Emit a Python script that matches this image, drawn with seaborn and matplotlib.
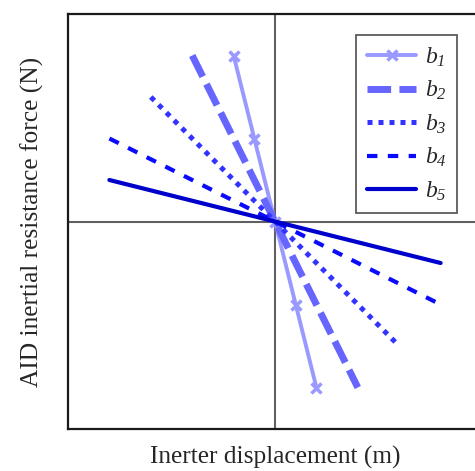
import seaborn as sns
import matplotlib.pyplot as plt
import numpy as np

# Plot configuration
sns.set_style("white")
plt.rcParams["font.family"] = ["Liberation Serif", "DejaVu Serif"]
plt.rcParams["mathtext.fontset"] = "custom"
plt.rcParams["mathtext.it"] = "Liberation Serif:italic"
plt.rcParams["mathtext.rm"] = "Liberation Serif:italic"

# Data (inerter displacement vs inertial resistance force, normalised)
labels = [r"$b_1$", r"$b_2$", r"$b_3$", r"$b_4$", r"$b_5$"]
x_b1 = [-0.2, -0.1, 0.0, 0.1, 0.2]
y_b1 = [0.8, 0.4, 0.0, -0.4, -0.8]
x_b2 = [-0.4, 0.0, 0.4]
y_b2 = [0.8, 0.0, -0.8]
x_b3 = [-0.6, 0.0, 0.6]
y_b3 = [0.6, 0.0, -0.6]
x_b4 = [-0.8, 0.0, 0.8]
y_b4 = [0.4, 0.0, -0.4]
x_b5 = [-0.8, 0.0, 0.8]
y_b5 = [0.2, 0.0, -0.2]

colors = ["#9999ff", "#6666ff", "#3333ff", "#0a0aff", "#0000cc"]

fig = plt.figure(figsize=(4.75, 4.71), dpi=100)
ax = fig.add_axes([68 / 475, 42 / 471, 414 / 475, 415 / 471])

# 1. Center axes
ax.axhline(0, color="#606060", lw=1.5, zorder=1)
ax.axvline(0, color="#606060", lw=1.5, zorder=1)

# 2. Lines
sns.lineplot(x=x_b1, y=y_b1, ax=ax, color=colors[0], lw=2.8, marker="x",
             markersize=7, markeredgewidth=2.5, markeredgecolor=colors[0], label=labels[0])
sns.lineplot(x=x_b2, y=y_b2, ax=ax, color=colors[1], lw=5, linestyle=(0, (3.4, 1.2)), label=labels[1])
sns.lineplot(x=x_b3, y=y_b3, ax=ax, color=colors[2], lw=3.6, linestyle=(0, (1, 1.2)), label=labels[2])
sns.lineplot(x=x_b4, y=y_b4, ax=ax, color=colors[3], lw=3, linestyle=(0, (2.5, 2.5)), label=labels[3])
sns.lineplot(x=x_b5, y=y_b5, ax=ax, color=colors[4], lw=3, label=labels[4])

ax.set_xlim(-1, 1)
ax.set_ylim(-1, 1)
ax.set_xticks([])
ax.set_yticks([])
for s in ax.spines.values():
    s.set_color("#1a1a1a")
    s.set_linewidth(1.6)

plt.xlabel("Inerter displacement (m)", fontsize=18.3, labelpad=12)
plt.ylabel("AID inertial resistance force (N)", fontsize=18.3, labelpad=17)

leg = ax.legend(loc="upper right", bbox_to_anchor=(457 / 475, 1 - 35 / 471),
                bbox_transform=fig.transFigure, fontsize=17, frameon=True,
                fancybox=False, handlelength=2.1, handletextpad=0.35,
                labelspacing=0.43, borderpad=0.45, borderaxespad=0)
leg.get_frame().set_edgecolor("#333333")
leg.get_frame().set_linewidth(1.3)

plt.savefig("out.png", dpi=100)
